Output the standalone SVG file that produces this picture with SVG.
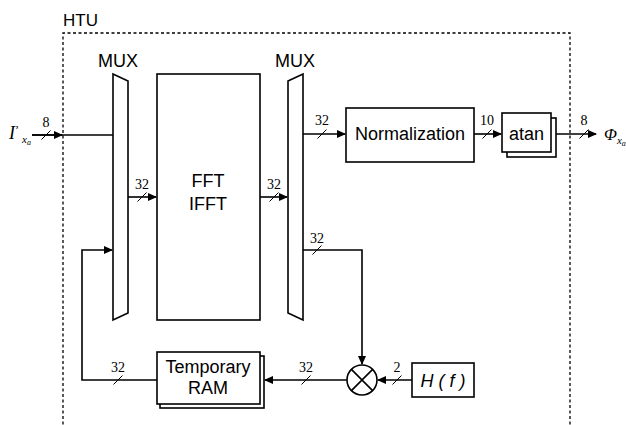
<svg xmlns="http://www.w3.org/2000/svg" width="626" height="425" viewBox="0 0 626 425">
<style>
.ln{fill:none;stroke:#000;stroke-width:1.6}
.bx{fill:#fff;stroke:#000;stroke-width:1.6}
.t{font-family:"Liberation Sans",Arial,sans-serif;font-size:18px;fill:#000;text-anchor:middle}
.n{font-family:"Liberation Serif","Times New Roman",serif;font-size:14px;fill:#000;text-anchor:middle}
.s{fill:none;stroke:#000;stroke-width:1}
.it{font-family:"Liberation Serif","Times New Roman",serif;font-style:italic;fill:#000}
</style>
<defs>
<marker id="ah" markerWidth="9" markerHeight="8" refX="8" refY="4" orient="auto" markerUnits="userSpaceOnUse">
<path d="M0,0 L9,4 L0,8 Z" fill="#000"/>
</marker>
<path id="sl" d="M-4.5,4.5 L4.5,-4.5" class="s"/>
</defs>
<rect width="626" height="425" fill="#fff"/>
<g id="htu">
<path d="M63,430 L63,33 L570,33 L570,430" fill="none" stroke="#000" stroke-width="1.3" stroke-dasharray="3,2.5"/>
<text x="63" y="26" class="t" style="text-anchor:start;font-size:17px">HTU</text>
</g>
<g id="connectors">
<path class="ln" d="M32,135 L113,135"/>
<path class="ln" d="M32,135 L62,135" marker-end="url(#ah)"/>
<path class="ln" d="M128,197 L156,197" marker-end="url(#ah)"/>
<path class="ln" d="M260,197 L287,197" marker-end="url(#ah)"/>
<path class="ln" d="M303,134 L345,134" marker-end="url(#ah)"/>
<path class="ln" d="M474,134 L501,134" marker-end="url(#ah)"/>
<path class="ln" d="M556,134 L596,134" marker-end="url(#ah)"/>
<path class="ln" d="M303,250 L362,250 L362,364" marker-end="url(#ah)"/>
<path class="ln" d="M412,380 L378,380" marker-end="url(#ah)"/>
<path class="ln" d="M347,380 L265,380" marker-end="url(#ah)"/>
<path class="ln" d="M157,380 L82,380 L82,250 L112,250" marker-end="url(#ah)"/>
<use href="#sl" x="46" y="135"/>
<use href="#sl" x="142" y="197"/>
<use href="#sl" x="274" y="197"/>
<use href="#sl" x="322" y="134"/>
<use href="#sl" x="487" y="134"/>
<use href="#sl" x="584" y="134"/>
<use href="#sl" x="317" y="250"/>
<use href="#sl" x="306" y="380"/>
<use href="#sl" x="397" y="380"/>
<use href="#sl" x="118" y="380"/>
<text x="46" y="127" class="n">8</text>
<text x="142" y="189" class="n">32</text>
<text x="274" y="189" class="n">32</text>
<text x="322" y="125" class="n">32</text>
<text x="487" y="125" class="n">10</text>
<text x="584" y="125" class="n">8</text>
<text x="317" y="243" class="n">32</text>
<text x="306" y="372" class="n">32</text>
<text x="397" y="372" class="n">2</text>
<text x="118" y="372" class="n">32</text>
</g>
<g id="input">
<text class="it" x="9" y="139" font-size="18">I<tspan font-size="12" font-style="normal" dy="-5">’</tspan></text>
<text class="it" x="22" y="143" font-size="11">x<tspan font-size="8" dy="2">a</tspan></text>
</g>
<g id="output">
<text class="it" x="604" y="140" font-size="17">Φ<tspan font-size="11" dy="4">x</tspan><tspan font-size="8" dy="2">a</tspan></text>
</g>
<g id="mux1">
<path class="bx" d="M113,74 L128,81 L128,313 L113,320 Z"/>
<text x="118" y="67" class="t">MUX</text>
</g>
<g id="fft">
<rect class="bx" x="157" y="74" width="103" height="246"/>
<text x="208" y="187" class="t">FFT</text>
<text x="208" y="210" class="t">IFFT</text>
</g>
<g id="mux2">
<path class="bx" d="M288,81 L303,74 L303,320 L288,313 Z"/>
<text x="295" y="67" class="t">MUX</text>
</g>
<g id="normalization">
<rect class="bx" x="346" y="108" width="128" height="54"/>
<text x="410" y="140" class="t">Normalization</text>
</g>
<g id="atan">
<rect class="bx" x="507" y="118" width="49" height="39"/>
<rect class="bx" x="502" y="113" width="49" height="39"/>
<text x="526.5" y="140" class="t">atan</text>
</g>
<g id="multiplier">
<circle class="bx" cx="362" cy="380" r="15"/>
<path class="ln" d="M351.4,369.4 L372.6,390.6 M372.6,369.4 L351.4,390.6"/>
</g>
<g id="hf">
<rect class="bx" x="412" y="363" width="62" height="34"/>
<text x="443" y="387" class="t" font-style="italic">H ( f )</text>
</g>
<g id="ram">
<rect class="bx" x="160" y="356" width="104" height="52"/>
<rect class="bx" x="157" y="352" width="103" height="52"/>
<text x="208" y="373" class="t">Temporary</text>
<text x="208" y="394" class="t">RAM</text>
</g>
</svg>
